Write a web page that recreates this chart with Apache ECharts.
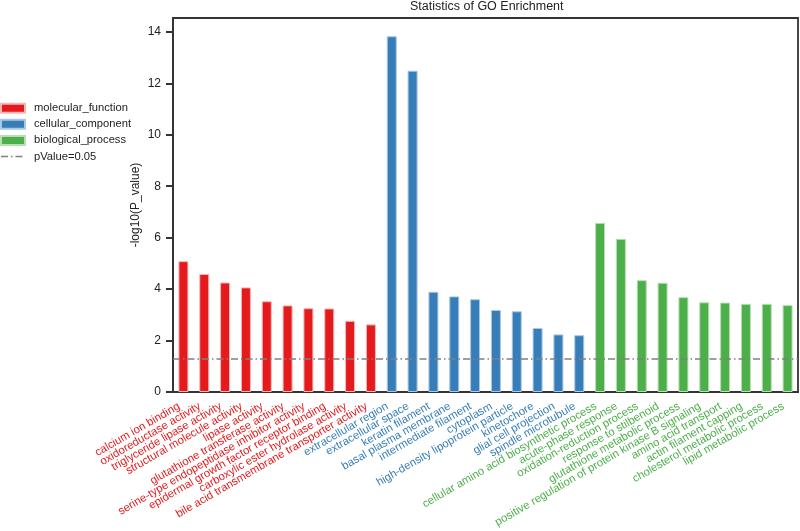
<!DOCTYPE html>
<html>
<head>
<meta charset="utf-8">
<script src="https://cdn.jsdelivr.net/npm/echarts@6/dist/echarts.min.js"></script>
<style>html,body{margin:0;padding:0;background:#fff}#chart{width:800px;height:531px}</style>
</head>
<body>
<div id="chart"></div>
<script>
const mfTerms = ["calcium ion binding","oxidoreductase activity","triglyceride lipase activity","structural molecule activity","lipase activity","glutathione transferase activity","serine-type endopeptidase inhibitor activity","epidermal growth factor receptor binding","carboxylic ester hydrolase activity","bile acid transmembrane transporter activity"];
const mfValues = [5.09, 4.59, 4.26, 4.07, 3.53, 3.37, 3.26, 3.25, 2.77, 2.63];
const ccTerms = ["extracellular region","extracellular space","keratin filament","basal plasma membrane","intermediate filament","cytoplasm","high-density lipoprotein particle","kinetochore","glial cell projection","spindle microtubule"];
const ccValues = [13.84, 12.50, 3.90, 3.72, 3.61, 3.19, 3.14, 2.49, 2.24, 2.21];
const bpTerms = ["cellular amino acid biosynthetic process","acute-phase response","oxidation-reduction process","response to stilbenoid","glutathione metabolic process","positive regulation of protein kinase B signaling","amino acid transport","actin filament capping","cholesterol metabolic process","lipid metabolic process"];
const bpValues = [6.58, 5.96, 4.35, 4.25, 3.69, 3.49, 3.48, 3.43, 3.43, 3.38];
const groupNames = ["molecular_function","cellular_component","biological_process"];
const groupColors = ["#e41a1c","#377eb8","#4daf4a"];
const groupBorders = ["#f7b6b6","#a9c8e6","#b6e0b4"];
const pValueLine = -Math.log10(0.05);
const yTicks = [0,2,4,6,8,10,12,14];

const categories = mfTerms.concat(ccTerms, bpTerms);
const groupOf = categories.map((c,i)=> i < mfTerms.length ? 0 : (i < mfTerms.length+ccTerms.length ? 1 : 2));
const groupVals = [mfValues, ccValues, bpValues];

function seriesData(g){
  const out = [];
  let off = 0;
  for (let k=0;k<g;k++) off += groupVals[k].length;
  for (let i=0;i<categories.length;i++){
    const j = i - off;
    out.push(j>=0 && j<groupVals[g].length ? groupVals[g][j] : '-');
  }
  return out;
}

const font = '"Liberation Sans", Arial, sans-serif';
const dashDot = [7,3,1.5,3];
const gridLeft = 173;
const series = groupNames.map((n,g)=>({
  name:n, type:'bar', stack:'all', barWidth:'48%',
  data: seriesData(g),
  itemStyle:{color:groupColors[g], borderColor:groupBorders[g], borderWidth:1},
  emphasis:{disabled:true}
}));
series.push({
  name:'pValue=0.05', type:'line', data:[], symbol:'none', color:'#808080',
  itemStyle:{color:'#808080'},
  lineStyle:{color:'#808080', width:1.5, type:dashDot},
  markLine:{silent:true, symbol:'none', label:{show:false},
    lineStyle:{color:'#808080', width:1.5, type:dashDot},
    data:[{yAxis:pValueLine}]}
});

const chart = echarts.init(document.getElementById('chart'));
chart.setOption({
  animation:false,
  backgroundColor:'#fff',
  title:{text:'Statistics of GO Enrichment', left:410, top:0, padding:0,
    textStyle:{fontFamily:font, fontSize:12.5, fontWeight:'normal', color:'#222'}},
  legend:{orient:'vertical', left:0, top:102.7, padding:0, itemWidth:24, itemHeight:9, itemGap:5.1,
    textStyle:{fontFamily:font, fontSize:11.2, color:'#222', padding:[0,0,0,4]},
    data:[{name:groupNames[0],icon:'rect'},{name:groupNames[1],icon:'rect'},{name:groupNames[2],icon:'rect'},
      {name:'pValue=0.05', itemStyle:{opacity:0}, lineStyle:{color:'#808080', width:1.5, type:dashDot}}]},
  grid:{left:gridLeft, right:2, top:18, bottom:139, show:true, borderColor:'#333', borderWidth:1.8, backgroundColor:'transparent', containLabel:false},
  xAxis:{type:'category', data:categories, boundaryGap:true,
    axisLine:{lineStyle:{color:'#333', width:1.8}},
    axisTick:{alignWithLabel:true, length:7, lineStyle:{color:'#333', width:1.8}},
    axisLabel:{rotate:30, interval:0, margin:11, padding:[0,5,0,0], fontFamily:font, fontSize:11.3,
      color:(v,i)=>groupColors[groupOf[i]]}},
  yAxis:{type:'value', min:0, max:14.55, name:'-log10(P_value)', nameLocation:'middle', nameGap:31,
    nameMoveOverlap:false,
    nameTextStyle:{fontFamily:font, fontSize:12, color:'#222'},
    splitLine:{show:false},
    axisLine:{show:true, lineStyle:{color:'#333', width:1.8}},
    axisTick:{show:false},
    axisLabel:{customValues:yTicks, margin:12, fontFamily:font, fontSize:12, color:'#222'}},
  series:series
});
// y-axis tick marks, positioned through the axis scale
const tickEls = yTicks.map(v=>{
  const y = Math.round(chart.convertToPixel({yAxisIndex:0}, v));
  return {type:'rect', silent:true, z:100, shape:{x:gridLeft-7, y:y-1, width:7, height:2}, style:{fill:'#333'}};
});
chart.setOption({graphic:{elements:tickEls}});
</script>
</body>
</html>
